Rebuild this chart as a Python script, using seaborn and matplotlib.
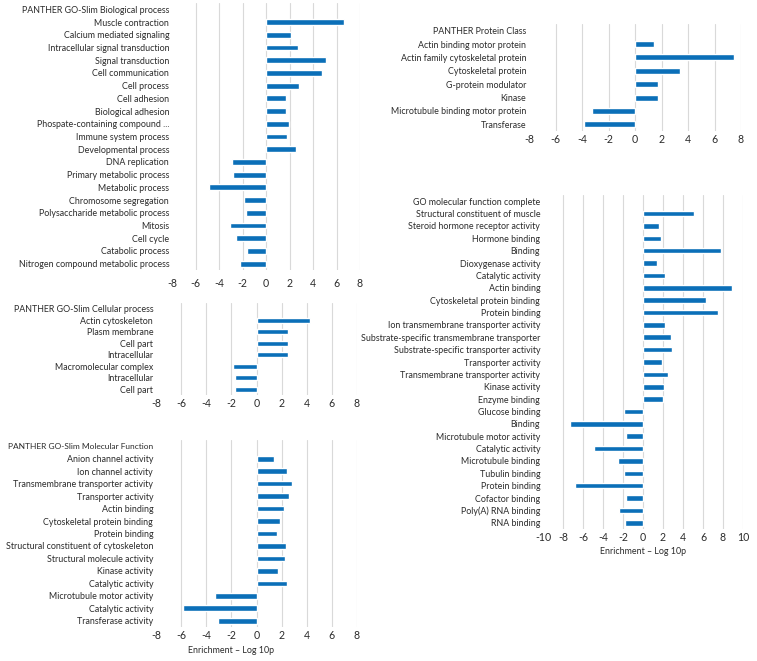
import pandas as pd
import matplotlib.pyplot as plt
import seaborn as sns

# ---- data ----
bio_title = "PANTHER GO-Slim Biological process"
bio_labels = ["Muscle contraction", "Calcium mediated signaling", "Intracellular signal transduction",
              "Signal transduction", "Cell communication", "Cell process", "Cell adhesion",
              "Biological adhesion", "Phospate-containing compound ...", "Immune system process",
              "Developmental process", "DNA replication", "Primary metabolic process",
              "Metabolic process", "Chromosome segregation", "Polysaccharide metabolic process",
              "Mitosis", "Cell cycle", "Catabolic process", "Nitrogen compound metabolic process"]
bio_values = [6.67, 2.13, 2.75, 5.08, 4.8, 2.8, 1.67, 1.67, 1.98, 1.76, 2.58,
              -2.87, -2.81, -4.82, -1.84, -1.73, -3.04, -2.58, -1.62, -2.18]

cell_title = "PANTHER GO-Slim Cellular process"
cell_labels = ["Actin cytoskeleton", "Plasm membrane", "Cell part", "Intracellular",
               "Macromolecular complex", "Intracellular", "Cell part"]
cell_values = [4.29, 2.49, 2.52, 2.54, -1.88, -1.72, -1.70]

mf_title = "PANTHER GO-Slim Molecular Function"
mf_labels = ["Anion channel activity", "Ion channel activity", "Transmembrane transporter activity",
             "Transporter activity", "Actin binding", "Cytoskeletal protein binding",
             "Protein binding", "Structural constituent of cytoskeleton",
             "Structural molecule activity", "Kinase activity", "Catalytic activity",
             "Microtubule motor activity", "Catalytic activity", "Transferase activity"]
mf_values = [1.43, 2.46, 2.86, 2.59, 2.2, 1.9, 1.61, 2.35, 2.3, 1.69, 2.43, -3.33, -5.82, -3.04]

pc_title = "PANTHER Protein Class"
pc_labels = ["Actin binding motor protein", "Actin family cytoskeletal protein",
             "Cytoskeletal protein", "G-protein modulator", "Kinase",
             "Microtubule binding motor protein", "Transferase"]
pc_values = [1.41, 7.46, 3.38, 1.71, 1.76, -3.27, -3.88]

go_title = "GO molecular function complete"
go_labels = ["Structural constituent of muscle", "Steroid hormone receptor activity",
             "Hormone binding", "Binding", "Dioxygenase activity", "Catalytic activity",
             "Actin binding", "Cytoskeletal protein binding", "Protein binding",
             "Ion transmembrane transporter activity",
             "Substrate-specific transmembrane transporter",
             "Substrate-specific transporter activity", "Transporter activity",
             "Transmembrane transporter activity", "Kinase activity", "Enzyme binding",
             "Glucose binding", "Binding", "Microtubule motor activity", "Catalytic activity",
             "Microtubule binding", "Tubulin binding", "Protein binding", "Cofactor binding",
             "Poly(A) RNA binding", "RNA binding"]
go_values = [5.05, 1.57, 1.84, 7.8, 1.37, 2.24, 8.9, 6.25, 7.46, 2.24, 2.78, 2.91, 1.91, 2.51,
             2.1, 2.04, -1.87, -7.32, -1.74, -4.88, -2.51, -1.87, -6.79, -1.74, -2.37, -1.8]

sns.set_style("white")
plt.rcParams['font.family'] = ['Lato', 'DejaVu Sans']
plt.rcParams['axes.unicode_minus'] = False

W, H = 757, 661
BLUE = "#0b6fb8"
FS = 6.4
TXT = "#2b2b2b"

fig = plt.figure(figsize=(W / 100, H / 100), dpi=100)


def panel(x0, x1, y0, y1, title, labels, values, xmin, xmax, xlabel=None, xlabel_x=0.5,
          xlabel_y=-0.1, pad=2, title_fs=FS):
    ax = fig.add_axes([x0 / W, 1 - y1 / H, (x1 - x0) / W, (y1 - y0) / H])
    n = len(values)
    df = pd.DataFrame({"row": range(n), "value": values})
    sns.barplot(data=df, x="value", y="row", orient="y", color=BLUE, saturation=1,
                width=0.45, ax=ax)
    ax.set_yticks(range(-1, n))
    ax.set_yticklabels([title] + labels, fontsize=FS, color=TXT)
    ax.get_yticklabels()[0].set_fontsize(title_fs)
    ax.set_ylim(n - 0.5, -1.5)
    ax.set_xlim(xmin, xmax)
    ax.set_xticks(range(xmin, xmax + 1, 2))
    ax.set_xticklabels([str(t) for t in range(xmin, xmax + 1, 2)], fontsize=FS + 1.2,
                       color=TXT)
    ax.set_ylabel("")
    ax.set_xlabel(xlabel if xlabel else "", fontsize=FS, color=TXT)
    if xlabel:
        ax.xaxis.set_label_coords(xlabel_x, xlabel_y)
    for s in ax.spines.values():
        s.set_visible(False)
    ax.grid(axis="x", color="#d9d9d9", linewidth=0.8)
    ax.grid(axis="y", visible=False)
    ax.set_axisbelow(True)
    ax.get_xgridlines()[0].set_visible(False)
    ax.tick_params(axis="x", length=0, pad=pad)
    ax.tick_params(axis="y", length=0, pad=2)
    return ax


panel(172, 360, 3, 270, bio_title, bio_labels, bio_values, -8, 8, pad=6)
panel(156, 357, 303, 395, cell_title, cell_labels, cell_values, -8, 8)
panel(156, 357, 440, 627, mf_title, mf_labels, mf_values, -8, 8,
      xlabel="Enrichment – Log 10p", xlabel_x=0.373, xlabel_y=-0.1, title_fs=6.0)
panel(529, 741, 24, 131, pc_title, pc_labels, pc_values, -8, 8)
panel(543, 743, 195, 529, go_title, go_labels, go_values, -10, 10,
      xlabel="Enrichment – Log 10p", xlabel_y=-0.055)

fig.savefig("out.png", dpi=100)
